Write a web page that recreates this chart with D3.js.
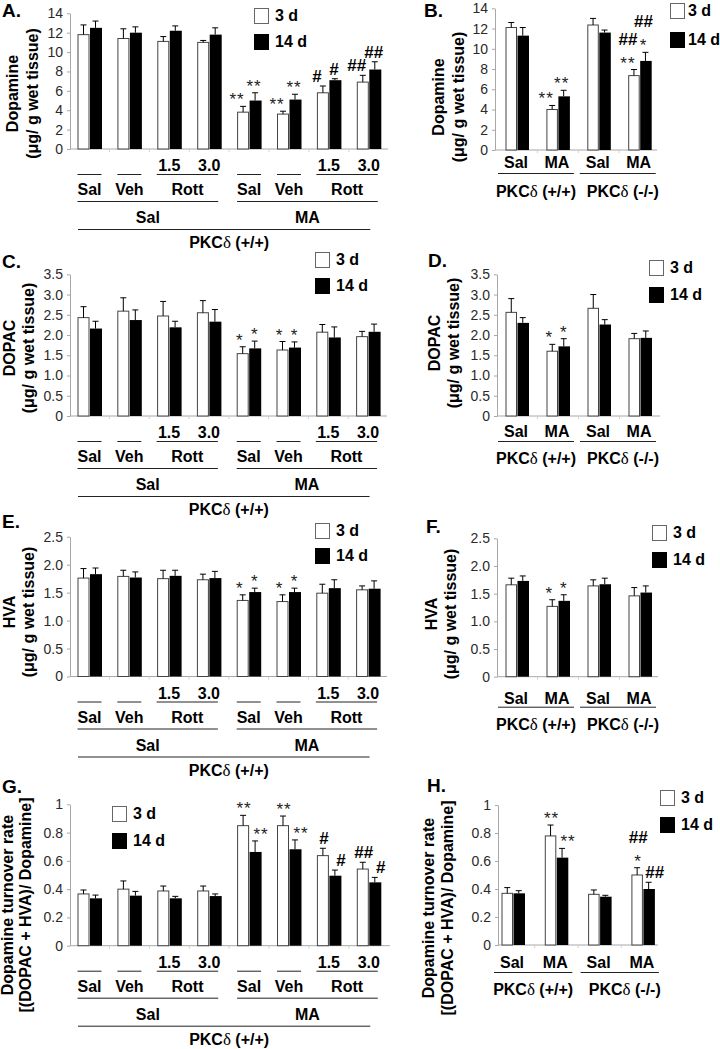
<!DOCTYPE html>
<html><head><meta charset="utf-8">
<script src="https://cdn.jsdelivr.net/npm/d3@7"></script>
<style>
body{margin:0;background:#fff}
svg{display:block}
text{font-family:"Liberation Sans",Arial,Helvetica,sans-serif}
</style>
</head><body><div id="chart"></div>
<script>
// ---------------- DATA ----------------
const mainGroups = ["Sal/Sal","Sal/Veh","Sal/Rott1.5","Sal/Rott3.0","MA/Sal","MA/Veh","MA/Rott1.5","MA/Rott3.0"];
const koGroups = ["WT/Sal","WT/MA","KO/Sal","KO/MA"];
const seriesNames = ["3 d","14 d"];

const doseLabels = ["","","1.5","3.0","","","1.5","3.0"];
const treatLabels = ["Sal","Veh","Rott","Sal","Veh","Rott"];
const treatSpans = [[0,0],[1,1],[2,3],[4,4],[5,5],[6,7]];
const pretreatLabels = ["Sal","MA"];
const pretreatSpans = [[0,3],[4,7]];
const koTreatLabels = ["Sal","MA","Sal","MA"];
const genoLabels = ["(+/+)","(-/-)"];
const genoSpans = [[0,1],[2,3]];

// Panel A: Dopamine (µg/g)
const aMean3 = [11.8, 11.4, 11.1, 11.0, 3.8, 3.6, 5.8, 6.9];
const aErr3  = [1.0, 1.0, 0.5, 0.2, 0.6, 0.3, 0.7, 0.7];
const aMean14 = [12.5, 12.0, 12.2, 11.8, 5.0, 5.1, 7.1, 8.2];
const aErr14  = [0.7, 0.6, 0.5, 0.7, 0.8, 0.55, 0.15, 0.8];
// Panel B
const bMean3 = [12.1, 4.0, 12.35, 7.35];
const bErr3  = [0.5, 0.4, 0.65, 0.6];
const bMean14 = [11.3, 5.3, 11.6, 8.8];
const bErr14  = [0.8, 0.6, 0.25, 0.85];
// Panel C: DOPAC
const cMean3 = [2.43, 2.59, 2.47, 2.55, 1.54, 1.63, 2.07, 1.96];
const cErr3  = [0.27, 0.33, 0.36, 0.30, 0.17, 0.21, 0.19, 0.13];
const cMean14 = [2.16, 2.37, 2.19, 2.33, 1.67, 1.69, 1.94, 2.08];
const cErr14  = [0.18, 0.25, 0.15, 0.30, 0.18, 0.14, 0.26, 0.19];
// Panel D
const dMean3 = [2.56, 1.60, 2.66, 1.91];
const dErr3  = [0.34, 0.17, 0.34, 0.13];
const dMean14 = [2.30, 1.72, 2.26, 1.93];
const dErr14  = [0.13, 0.19, 0.12, 0.17];
// Panel E: HVA
const eMean3 = [1.76, 1.79, 1.75, 1.73, 1.36, 1.34, 1.49, 1.55];
const eErr3  = [0.17, 0.11, 0.15, 0.10, 0.10, 0.12, 0.16, 0.07];
const eMean14 = [1.83, 1.77, 1.80, 1.76, 1.51, 1.51, 1.58, 1.57];
const eErr14  = [0.11, 0.10, 0.10, 0.12, 0.07, 0.07, 0.15, 0.14];
// Panel F
const fMean3 = [1.66, 1.27, 1.64, 1.46];
const fErr3  = [0.12, 0.12, 0.11, 0.15];
const fMean14 = [1.73, 1.37, 1.67, 1.52];
const fErr14  = [0.09, 0.11, 0.11, 0.12];
// Panel G: turnover
const gMean3 = [0.366, 0.40, 0.387, 0.387, 0.849, 0.849, 0.637, 0.542];
const gErr3  = [0.028, 0.058, 0.035, 0.035, 0.073, 0.068, 0.052, 0.048];
const gMean14 = [0.335, 0.354, 0.335, 0.351, 0.663, 0.682, 0.495, 0.448];
const gErr14  = [0.023, 0.030, 0.014, 0.015, 0.078, 0.066, 0.040, 0.035];
// Panel H
const hMean3 = [0.369, 0.779, 0.362, 0.50];
const hErr3  = [0.041, 0.078, 0.031, 0.052];
const hMean14 = [0.369, 0.624, 0.345, 0.40];
const hErr14  = [0.019, 0.066, 0.010, 0.048];

// tick values / labels
const ticksDA = [0,2,4,6,8,10,12,14];
const tickLabelsDA = ["0","2","4","6","8","10","12","14"];
const ticksDOPAC = [0,0.5,1,1.5,2,2.5,3,3.5];
const tickLabelsDOPAC = ["0","0.5","1.0","1.5","2.0","2.5","3.0","3.5"];
const ticksHVA = [0,0.5,1,1.5,2,2.5];
const tickLabelsHVA = ["0","0.5","1.0","1.5","2.0","2.5"];
const ticksTO = [0,0.2,0.4,0.6,0.8,1];
const tickLabelsTO = ["0","0.2","0.4","0.6","0.8","1"];

// significance marks: [group, series, text, stack level]
const aMarks = [[4,0,"**",0],[4,1,"**",0],[5,0,"**",0],[5,1,"**",0],[6,0,"#",0],[6,1,"#",0],[7,0,"##",0],[7,1,"##",0]];
const bMarks = [[1,0,"**",0],[1,1,"**",0],[3,0,"**",0],[3,0,"##",1],[3,1,"*",0],[3,1,"##",1]];
const cMarks = [[4,0,"*",0],[4,1,"*",0],[5,0,"*",0],[5,1,"*",0]];
const dMarks = [[1,0,"*",0],[1,1,"*",0]];
const eMarks = [[4,0,"*",0],[4,1,"*",0],[5,0,"*",0],[5,1,"*",0]];
const fMarks = [[1,0,"*",0],[1,1,"*",0]];
const gMarks = [[4,0,"**",0],[4,1,"**",0],[5,0,"**",0],[5,1,"**",0],[6,0,"#",0],[6,1,"#",0],[7,0,"##",0],[7,1,"#",0]];
const hMarks = [[1,0,"**",0],[1,1,"**",0],[3,0,"*",0],[3,0,"##",1],[3,1,"##",0]];

// ---------------- LAYOUT ----------------
const W = 720, H = 1049;
const svg = d3.select("#chart").append("svg").attr("width", W).attr("height", H);

const panels = [
  {letter:"A.", kind:"main", groups:mainGroups, m3:aMean3, e3:aErr3, m14:aMean14, e14:aErr14, ticks:ticksDA, tl:tickLabelsDA, marks:aMarks,
   y0:149, yTop:13.3, ax:70, axEnd:388, c0:89.5, step:39.9, bw:12,
   ylab:["Dopamine","(\u03bcg/ g wet tissue)"], ylx:[17.5,37.5], yly:93.5, lx:2, ly:17,
   leg:{x:254, y1:8, y2:34, tx:275}, mdx:[-6,-1]},
  {letter:"B.", kind:"ko", groups:koGroups, m3:bMean3, e3:bErr3, m14:bMean14, e14:bErr14, ticks:ticksDA, tl:tickLabelsDA, marks:bMarks,
   y0:150, yTop:8.3, ax:495, axEnd:657, c0:517, step:40.9, bw:11.5,
   ylab:["Dopamine","(\u03bcg/ g wet tissue)"], ylx:[444,464], yly:97, lx:424, ly:17,
   leg:{x:670, y1:3, y2:32, tx:688}, mdx:[-6,-2], off:[18,23,47]},
  {letter:"C.", kind:"main", groups:mainGroups, m3:cMean3, e3:cErr3, m14:cMean14, e14:cErr14, ticks:ticksDOPAC, tl:tickLabelsDOPAC, marks:cMarks,
   y0:416, yTop:274.3, ax:70, axEnd:387, c0:89.5, step:39.8, bw:12,
   ylab:["DOPAC","(\u03bcg/ g wet tissue)"], ylx:[14.5,34], yly:348, lx:2, ly:268,
   leg:{x:315, y1:252, y2:278, tx:336}, mdx:[-3,0]},
  {letter:"D.", kind:"ko", groups:koGroups, m3:dMean3, e3:dErr3, m14:dMean14, e14:dErr14, ticks:ticksDOPAC, tl:tickLabelsDOPAC, marks:dMarks,
   y0:416, yTop:274.3, ax:497, axEnd:660, c0:517, step:41, bw:11.5,
   ylab:["DOPAC","(\u03bcg/ g wet tissue)"], ylx:[440,459], yly:343, lx:428, ly:267,
   leg:{x:649, y1:260, y2:287, tx:670}, mdx:[-3,0], off:[21,25,48]},
  {letter:"E.", kind:"main", groups:mainGroups, m3:eMean3, e3:eErr3, m14:eMean14, e14:eErr14, ticks:ticksHVA, tl:tickLabelsHVA, marks:eMarks,
   y0:676.5, yTop:536.7, ax:70, axEnd:387, c0:89.5, step:39.8, bw:12,
   ylab:["HVA","(\u03bcg/ g wet tissue)"], ylx:[14.5,34], yly:612, lx:2, ly:528,
   leg:{x:315, y1:523, y2:548, tx:336}, mdx:[-3,0]},
  {letter:"F.", kind:"ko", groups:koGroups, m3:fMean3, e3:fErr3, m14:fMean14, e14:fErr14, ticks:ticksHVA, tl:tickLabelsHVA, marks:fMarks,
   y0:676.7, yTop:538.3, ax:497, axEnd:658, c0:517, step:41, bw:11.5,
   ylab:["HVA","(\u03bcg/ g wet tissue)"], ylx:[437,456], yly:614, lx:426, ly:533,
   leg:{x:652, y1:525, y2:552, tx:673}, mdx:[-3,0], off:[27,30,53]},
  {letter:"G.", kind:"main", groups:mainGroups, m3:gMean3, e3:gErr3, m14:gMean14, e14:gErr14, ticks:ticksTO, tl:tickLabelsTO, marks:gMarks,
   y0:945.7, yTop:804.3, ax:70, axEnd:390, c0:89.5, step:39.9, bw:12,
   ylab:["Dopamine turnover rate","[(DOPAC + HVA)/ Dopamine]"], ylx:[13,31], yly:905, lx:2, ly:793,
   leg:{x:112, y1:806, y2:833, tx:133}, mdx:[1,6]},
  {letter:"H.", kind:"ko", groups:koGroups, m3:hMean3, e3:hErr3, m14:hMean14, e14:hErr14, ticks:ticksTO, tl:tickLabelsTO, marks:hMarks,
   y0:945, yTop:805, ax:498, axEnd:658, c0:513, step:43.3, bw:11.5,
   ylab:["Dopamine turnover rate","[(DOPAC + HVA)/ Dopamine]"], ylx:[434,453], yly:908, lx:427, ly:792,
   leg:{x:660, y1:790, y2:817, tx:681}, mdx:[1,6], off:[23,27,50]}
];

const AXIS_COLOR = "#a8a8a8";
const LINE_COLOR = "#222";

function addGeno(g, x, y, label) {
  const t = g.append("text").attr("x", x).attr("y", y).attr("text-anchor", "middle")
    .attr("font-size", 16).attr("font-weight", "bold").attr("fill", "#000");
  t.append("tspan").text("PKC");
  t.append("tspan").attr("font-weight", "normal").attr("font-family", "'Liberation Serif','DejaVu Serif',serif").attr("font-size", 17).text("\u03b4");
  t.append("tspan").text(" " + label);
}

function hline(g, x1, x2, y) {
  g.append("line").attr("x1", x1).attr("x2", x2).attr("y1", y).attr("y2", y)
    .attr("stroke", LINE_COLOR).attr("stroke-width", 1);
}

function boldText(g, x, y, s, size) {
  g.append("text").attr("x", x).attr("y", y).attr("text-anchor", "middle")
    .attr("font-size", size || 16).attr("font-weight", "bold").text(s);
}

panels.forEach(p => {
  const g = svg.append("g");
  const n = p.groups.length;
  const yMax = p.ticks[p.ticks.length - 1];
  const y = d3.scaleLinear().domain([0, yMax]).range([p.y0, p.yTop]);
  const x = d3.scaleBand().domain(p.groups)
    .range([p.c0 - p.step / 2, p.c0 - p.step / 2 + p.step * n]).padding(0);
  const cx = i => x(p.groups[i]) + x.bandwidth() / 2;

  // y axis
  const axis = d3.axisLeft(y).tickValues(p.ticks).tickFormat((d, i) => p.tl[i])
    .tickSize(3).tickSizeOuter(0).tickPadding(4);
  const ag = g.append("g").attr("transform", `translate(${p.ax},0)`).call(axis);
  ag.select(".domain").attr("stroke", AXIS_COLOR);
  ag.selectAll(".tick line").attr("stroke", AXIS_COLOR);
  ag.selectAll(".tick text").attr("font-size", 14).attr("fill", "#2a2a2a")
    .attr("font-family", "'Liberation Sans',Arial,sans-serif");

  // baseline with faint category ticks
  g.append("line").attr("x1", p.ax).attr("x2", p.axEnd).attr("y1", p.y0).attr("y2", p.y0)
    .attr("stroke", AXIS_COLOR).attr("stroke-width", 1);
  g.selectAll(null).data(p.groups.slice(1)).join("line")
    .attr("x1", d => x(d)).attr("x2", d => x(d))
    .attr("y1", p.y0).attr("y2", p.y0 + 3)
    .attr("stroke", "#d0d0d0").attr("stroke-width", 1);

  const series = [
    {m: p.m3, e: p.e3, fill: "#fff", stroke: "#444"},
    {m: p.m14, e: p.e14, fill: "#000", stroke: "none"}
  ];
  series.forEach((s, si) => {
    const bx = i => cx(i) - p.bw + si * p.bw;
    g.selectAll(null).data(s.m).join("rect")
      .attr("x", (d, i) => bx(i) + 0.5)
      .attr("y", d => y(d))
      .attr("width", p.bw - (si === 0 ? 1 : 0))
      .attr("height", d => p.y0 - y(d))
      .attr("fill", s.fill).attr("stroke", s.stroke).attr("stroke-width", 1);
    // error bars
    g.selectAll(null).data(s.m).join("line")
      .attr("x1", (d, i) => bx(i) + p.bw / 2).attr("x2", (d, i) => bx(i) + p.bw / 2)
      .attr("y1", d => y(d)).attr("y2", (d, i) => y(d + s.e[i]))
      .attr("stroke", "#000").attr("stroke-width", 1);
    g.selectAll(null).data(s.m).join("line")
      .attr("x1", (d, i) => bx(i) + p.bw / 2 - 3).attr("x2", (d, i) => bx(i) + p.bw / 2 + 3)
      .attr("y1", (d, i) => y(d + s.e[i])).attr("y2", (d, i) => y(d + s.e[i]))
      .attr("stroke", "#000").attr("stroke-width", 1);
  });

  // significance marks
  p.marks.forEach(([gi, si, txt, lvl]) => {
    const s = series[si];
    const top = y(s.m[gi] + s.e[gi]);
    const bxc = cx(gi) - p.bw + si * p.bw + p.bw / 2 + p.mdx[si];
    const isStar = txt.indexOf("*") >= 0;
    const yy = top + (isStar ? -1 : -4) - lvl * 21;
    g.append("text").attr("x", bxc).attr("y", yy).attr("text-anchor", "middle")
      .attr("font-size", 17).attr("font-weight", isStar ? "normal" : "bold")
      .attr("letter-spacing", isStar ? 1 : 0)
      .attr("fill", isStar ? "#222" : "#000").text(txt);
  });

  // legend
  [[p.leg.y1, "#fff", seriesNames[0]], [p.leg.y2, "#000", seriesNames[1]]].forEach(([ly, fill, name]) => {
    g.append("rect").attr("x", p.leg.x + 0.5).attr("y", ly + 0.5).attr("width", 14).attr("height", 15)
      .attr("fill", fill).attr("stroke", fill === "#fff" ? "#666" : "#000");
    g.append("text").attr("x", p.leg.tx).attr("y", ly + 13).attr("font-size", 16)
      .attr("font-weight", "bold").text(name);
  });

  // panel letter
  g.append("text").attr("x", p.lx).attr("y", p.ly).attr("font-size", 19).attr("font-weight", "bold").text(p.letter);

  // y label
  p.ylab.forEach((s, k) => {
    g.append("text").attr("transform", `translate(${p.ylx[k]},${p.yly}) rotate(-90)`)
      .attr("text-anchor", "middle").attr("font-size", 16).attr("font-weight", "bold").text(s);
  });

  // x labels
  if (p.kind === "main") {
    const y0 = p.y0;
    doseLabels.forEach((s, i) => { if (s) boldText(g, cx(i), y0 + 22, s); });
    treatSpans.forEach(([a, b], k) => {
      const x1 = a === b ? cx(a) - 12 : cx(a) - 12.5;
      const x2 = a === b ? cx(b) + 12 : cx(b) + 9;
      hline(g, x1, x2, y0 + 25.5);
      boldText(g, (x1 + x2) / 2, y0 + 46, treatLabels[k]);
    });
    pretreatSpans.forEach(([a, b], k) => {
      const x1 = cx(a) - 12, x2 = cx(b) + 9;
      hline(g, x1, x2, y0 + 52.5);
      boldText(g, (x1 + x2) / 2, y0 + 74, pretreatLabels[k]);
    });
    const gx1 = cx(0) - 11.5, gx2 = cx(n - 1) + 1.5;
    hline(g, gx1, gx2, y0 + 80.5);
    addGeno(g, (cx(0) + cx(n - 1)) / 2, y0 + 99, genoLabels[0]);
  } else {
    const y0 = p.y0;
    koTreatLabels.forEach((s, i) => boldText(g, cx(i) - 1, y0 + p.off[0], s));
    genoSpans.forEach(([a, b], k) => {
      const x1 = cx(a) - 19, x2 = cx(b) + 16;
      hline(g, x1, x2, y0 + p.off[1] + 0.5);
      addGeno(g, (x1 + x2) / 2 + (k === 1 ? 5 : 0), y0 + p.off[2], genoLabels[k]);
    });
  }
});
</script>
</body></html>
